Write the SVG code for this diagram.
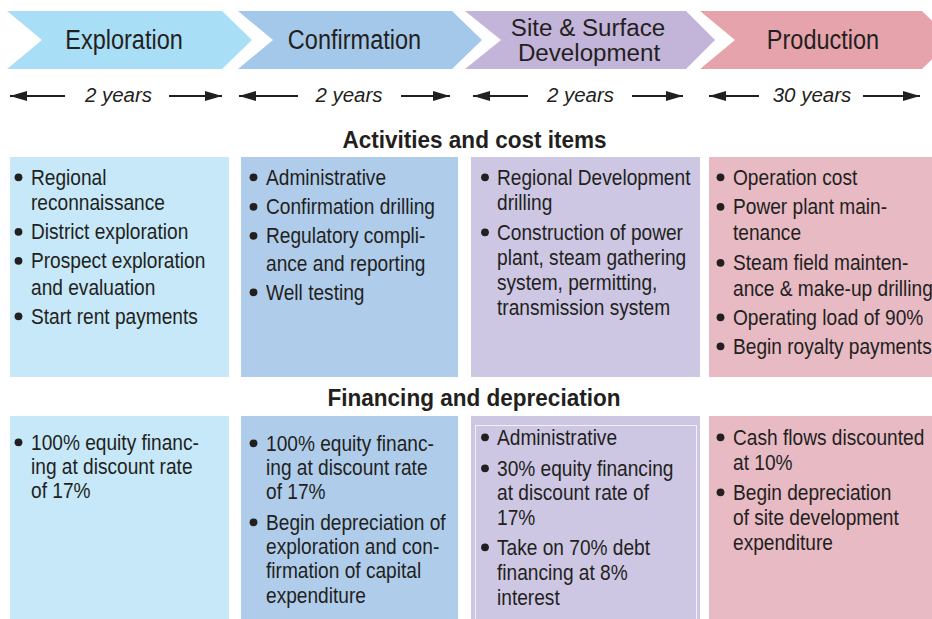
<svg xmlns="http://www.w3.org/2000/svg" width="932" height="619" viewBox="0 0 932 619">
  <defs>
    <style>
      .txt { font-family: "Liberation Sans", Arial, sans-serif; fill: #231f20; }
      .phase { font-size: 28px; text-anchor: middle; }
      .phase2 { font-size: 23px; text-anchor: middle; }
      .dur { font-size: 20.5px; font-style: italic; text-anchor: middle; }
      .head { font-size: 23px; font-weight: bold; text-anchor: middle; }
      .body { font-size: 22.5px; }
      .dot { fill: #231f20; }
      .arr { stroke: #231f20; stroke-width: 1.8; fill: none; marker-end: url(#tip); }
    </style>
    <marker id="tip" markerUnits="userSpaceOnUse" markerWidth="17" markerHeight="11" refX="17" refY="5.5" orient="auto">
      <path d="M0,0.5 L17,5.5 L0,10.5 z" fill="#231f20"/>
    </marker>
  </defs>

  <rect width="932" height="619" fill="#ffffff"/>

  <!-- Phase chevrons -->
  <g id="phase-exploration">
    <polygon points="7,11 222,11 252,40 222,69 7,69 42,40" fill="#a9def7"/>
    <text class="txt phase" transform="translate(124 49) scale(0.84 1)">Exploration</text>
  </g>
  <g id="phase-confirmation">
    <polygon points="238,11 452,11 482,40 452,69 238,69 273,40" fill="#a4c8ea"/>
    <text class="txt phase" transform="translate(354.5 49) scale(0.84 1)">Confirmation</text>
  </g>
  <g id="phase-site">
    <polygon points="465,11 686,11 715,40 686,69 465,69 501,40" fill="#c3b4d9"/>
    <text class="txt phase2" transform="translate(588 35.5) scale(1.05 1)"><tspan x="0" y="0">Site &amp; Surface</tspan><tspan x="1" y="26">Development</tspan></text>
  </g>
  <g id="phase-production">
    <polygon points="700,11 922,11 952,40 922,69 700,69 735,40" fill="#e6a3ab"/>
    <text class="txt phase" transform="translate(823 49) scale(0.84 1)">Production</text>
  </g>

  <!-- Duration arrows -->
  <g id="connectors">
    <line class="arr" x1="65" y1="96" x2="10" y2="96"/>
    <line class="arr" x1="169" y1="96" x2="222" y2="96"/>
    <line class="arr" x1="298" y1="96" x2="239" y2="96"/>
    <line class="arr" x1="401" y1="96" x2="450" y2="96"/>
    <line class="arr" x1="528" y1="96" x2="473" y2="96"/>
    <line class="arr" x1="632" y1="96" x2="683" y2="96"/>
    <line class="arr" x1="759" y1="96" x2="709" y2="96"/>
    <line class="arr" x1="863" y1="96" x2="920" y2="96"/>
  </g>
  <g id="durations">
    <text class="txt dur" x="118.5" y="101.5">2 years</text>
    <text class="txt dur" x="349" y="101.5">2 years</text>
    <text class="txt dur" x="580.5" y="101.5">2 years</text>
    <text class="txt dur" x="812" y="101.5">30 years</text>
  </g>

  <!-- Section headings -->
  <text class="txt head" transform="translate(474.5 148) scale(0.98 1)">Activities and cost items</text>
  <text class="txt head" transform="translate(474 406) scale(0.98 1)">Financing and depreciation</text>

  <!-- Activities and cost items -->
  <g id="act-exploration">
    <rect x="10" y="157" width="219" height="220" fill="#c6e8f8"/>
    <circle class="dot" cx="18.5" cy="177.3" r="3.9"/>
    <circle class="dot" cx="18.5" cy="231.8" r="3.9"/>
    <circle class="dot" cx="18.5" cy="260.8" r="3.9"/>
    <circle class="dot" cx="18.5" cy="316.3" r="3.9"/>
    <g class="txt body" transform="translate(31 0) scale(0.85 1)">
      <text y="185">Regional</text>
      <text y="210">reconnaissance</text>
      <text y="239.5">District exploration</text>
      <text y="268.5">Prospect exploration</text>
      <text y="295">and evaluation</text>
      <text y="324">Start rent payments</text>
    </g>
  </g>
  <g id="act-confirmation">
    <rect x="241" y="157" width="217" height="220" fill="#afcdeb"/>
    <circle class="dot" cx="253.5" cy="177.3" r="3.9"/>
    <circle class="dot" cx="253.5" cy="206.8" r="3.9"/>
    <circle class="dot" cx="253.5" cy="235.8" r="3.9"/>
    <circle class="dot" cx="253.5" cy="292.3" r="3.9"/>
    <g class="txt body" transform="translate(266 0) scale(0.85 1)">
      <text y="185">Administrative</text>
      <text y="214.5">Confirmation drilling</text>
      <text y="243.5">Regulatory compli-</text>
      <text y="271.5">ance and reporting</text>
      <text y="300">Well testing</text>
    </g>
  </g>
  <g id="act-site">
    <rect x="471" y="157" width="229" height="220" fill="#cdc7e4"/>
    <circle class="dot" cx="485" cy="177.3" r="3.9"/>
    <circle class="dot" cx="485" cy="232.3" r="3.9"/>
    <g class="txt body" transform="translate(497 0) scale(0.85 1)">
      <text y="185">Regional Development</text>
      <text y="210">drilling</text>
      <text y="240">Construction of power</text>
      <text y="265.5">plant, steam gathering</text>
      <text y="290">system, permitting,</text>
      <text y="315">transmission system</text>
    </g>
  </g>
  <g id="act-production">
    <rect x="709" y="157" width="223" height="220" fill="#e7bac4"/>
    <circle class="dot" cx="720.5" cy="177.3" r="3.9"/>
    <circle class="dot" cx="720.5" cy="206.8" r="3.9"/>
    <circle class="dot" cx="720.5" cy="262.8" r="3.9"/>
    <circle class="dot" cx="720.5" cy="317.3" r="3.9"/>
    <circle class="dot" cx="720.5" cy="346.3" r="3.9"/>
    <g class="txt body" transform="translate(733 0) scale(0.85 1)">
      <text y="185">Operation cost</text>
      <text y="214.5">Power plant main-</text>
      <text y="240">tenance</text>
      <text y="270.5">Steam field mainten-</text>
      <text y="296">ance &amp; make-up drilling</text>
      <text y="325">Operating load of 90%</text>
      <text y="354">Begin royalty payments</text>
    </g>
  </g>

  <!-- Financing and depreciation -->
  <g id="fin-exploration">
    <rect x="10" y="416" width="219" height="203" fill="#c6e8f8"/>
    <circle class="dot" cx="18.5" cy="442.3" r="3.9"/>
    <g class="txt body" transform="translate(31 0) scale(0.85 1)">
      <text y="450">100% equity financ-</text>
      <text y="474">ing at discount rate</text>
      <text y="498">of 17%</text>
    </g>
  </g>
  <g id="fin-confirmation">
    <rect x="241" y="416" width="217" height="203" fill="#afcdeb"/>
    <circle class="dot" cx="253.5" cy="443.3" r="3.9"/>
    <circle class="dot" cx="253.5" cy="522.3" r="3.9"/>
    <g class="txt body" transform="translate(266 0) scale(0.85 1)">
      <text y="451">100% equity financ-</text>
      <text y="475">ing at discount rate</text>
      <text y="499">of 17%</text>
      <text y="530">Begin depreciation of</text>
      <text y="554">exploration and con-</text>
      <text y="578">firmation of capital</text>
      <text y="603">expenditure</text>
    </g>
  </g>
  <g id="fin-site">
    <rect x="471" y="416" width="229" height="203" fill="#cdc7e4"/>
    <rect x="475.5" y="425.5" width="221" height="200" fill="none" stroke="#f3f1f8" stroke-width="1"/>
    <circle class="dot" cx="485" cy="437.3" r="3.9"/>
    <circle class="dot" cx="485" cy="468.3" r="3.9"/>
    <circle class="dot" cx="485" cy="547.3" r="3.9"/>
    <g class="txt body" transform="translate(497 0) scale(0.85 1)">
      <text y="445">Administrative</text>
      <text y="476">30% equity financing</text>
      <text y="500">at discount rate of</text>
      <text y="525">17%</text>
      <text y="555">Take on 70% debt</text>
      <text y="580">financing at 8%</text>
      <text y="605">interest</text>
    </g>
  </g>
  <g id="fin-production">
    <rect x="709" y="416" width="223" height="203" fill="#e7bac4"/>
    <circle class="dot" cx="720.5" cy="437.3" r="3.9"/>
    <circle class="dot" cx="720.5" cy="492.3" r="3.9"/>
    <g class="txt body" transform="translate(733 0) scale(0.85 1)">
      <text y="445">Cash flows discounted</text>
      <text y="470">at 10%</text>
      <text y="500">Begin depreciation</text>
      <text y="525">of site development</text>
      <text y="550">expenditure</text>
    </g>
  </g>
</svg>
